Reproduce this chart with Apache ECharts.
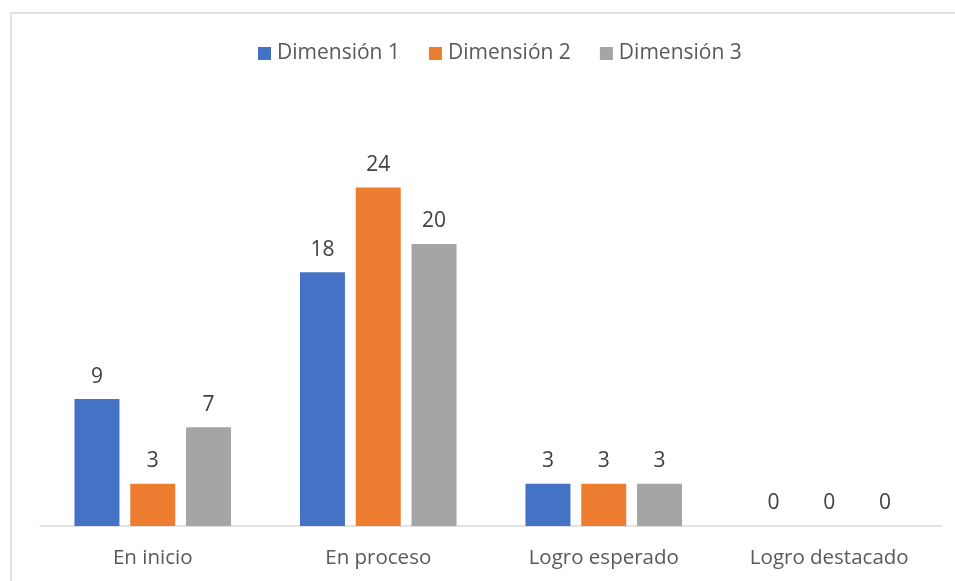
<!DOCTYPE html>
<html>
<head>
<meta charset="utf-8">
<script src="https://cdn.jsdelivr.net/npm/echarts@6/dist/echarts.min.js"></script>
<style>html,body{margin:0;padding:0;background:#fff}#c{width:955px;height:581px}</style>
</head>
<body>
<div id="c"></div>
<script>
const categories = ['En inicio', 'En proceso', 'Logro esperado', 'Logro destacado'];
const seriesNames = ['Dimensión 1', 'Dimensión 2', 'Dimensión 3'];
const dim1 = [9, 18, 3, 0];
const dim2 = [3, 24, 3, 0];
const dim3 = [7, 20, 3, 0];
const colors = ['#4472C4', '#ED7D31', '#A5A5A5'];

const font = 'Open Sans, Noto Sans, sans-serif';
const chart = echarts.init(document.getElementById('c'));
const mk = (name, data, color) => ({
  name, type: 'bar', data, barWidth: 45, barGap: '24%',
  itemStyle: { color },
  label: { show: true, position: 'top', distance: 12, color: '#404040', fontSize: 21, fontFamily: font }
});
chart.setOption({
  animation: false,
  graphic: [{ type: 'rect', shape: { x: 11, y: 13, width: 970, height: 620 }, style: { fill: 'none', stroke: '#D9D9D9', lineWidth: 1.5 }, silent: true }],
  legend: {
    top: 38, left: 253, itemWidth: 13, itemHeight: 13, itemGap: 29,
    icon: 'rect',
    textStyle: { color: '#595959', fontSize: 21, fontFamily: font, padding: [0, 0, 0, 1] },
    data: seriesNames
  },
  grid: { left: 40, right: 13, top: 103, bottom: 55 },
  xAxis: {
    type: 'category', data: categories,
    axisLine: { lineStyle: { color: '#D9D9D9', width: 1.5 } },
    axisTick: { show: false },
    axisLabel: { color: '#595959', fontSize: 20.5, fontFamily: font, margin: 22 }
  },
  yAxis: { type: 'value', min: 0, max: 30, show: false, splitLine: { show: false } },
  series: [mk(seriesNames[0], dim1, colors[0]), mk(seriesNames[1], dim2, colors[1]), mk(seriesNames[2], dim3, colors[2])]
});
</script>
</body>
</html>
